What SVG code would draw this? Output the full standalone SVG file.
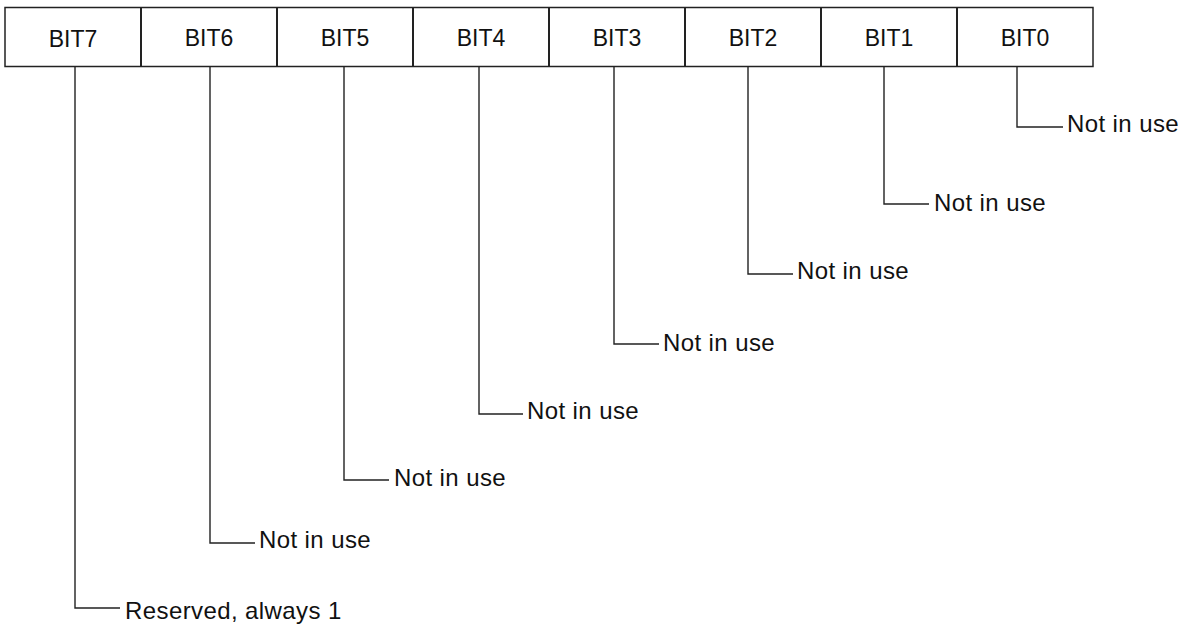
<svg xmlns="http://www.w3.org/2000/svg" width="1191" height="628" viewBox="0 0 1191 628">
<style>
.cell{fill:#fff;stroke:#222;stroke-width:1.5}
.div{stroke:#222;stroke-width:2}
.bit{font-family:"Liberation Sans",Arial,sans-serif;font-size:23px;fill:#111;text-anchor:middle}
.lbl{font-family:"Liberation Sans",Arial,sans-serif;font-size:24px;letter-spacing:0.4px;fill:#111}
.con{fill:none;stroke:#222;stroke-width:1.4}
</style>
<rect width="1191" height="628" fill="#fff"/>
<g id="register">
<rect class="cell" x="5" y="7.5" width="1088" height="59"/>
<line class="div" x1="141" y1="7.5" x2="141" y2="66.5"/>
<line class="div" x1="277" y1="7.5" x2="277" y2="66.5"/>
<line class="div" x1="413" y1="7.5" x2="413" y2="66.5"/>
<line class="div" x1="549" y1="7.5" x2="549" y2="66.5"/>
<line class="div" x1="685" y1="7.5" x2="685" y2="66.5"/>
<line class="div" x1="821" y1="7.5" x2="821" y2="66.5"/>
<line class="div" x1="957" y1="7.5" x2="957" y2="66.5"/>
</g>
<g id="bit7"><text class="bit" x="73" y="47">BIT7</text></g>
<g id="bit6"><text class="bit" x="209" y="45.5">BIT6</text></g>
<g id="bit5"><text class="bit" x="345" y="45.5">BIT5</text></g>
<g id="bit4"><text class="bit" x="481" y="45.5">BIT4</text></g>
<g id="bit3"><text class="bit" x="617" y="45.5">BIT3</text></g>
<g id="bit2"><text class="bit" x="753" y="45.5">BIT2</text></g>
<g id="bit1"><text class="bit" x="889" y="45.5">BIT1</text></g>
<g id="bit0"><text class="bit" x="1025" y="45.5">BIT0</text></g>
<g id="connectors">
<polyline class="con" points="1017,66.5 1017,127 1063,127"/>
<polyline class="con" points="884,66.5 884,204 929,204"/>
<polyline class="con" points="748,66.5 748,274 793,274"/>
<polyline class="con" points="614,66.5 614,344 659,344"/>
<polyline class="con" points="479,66.5 479,414 523,414"/>
<polyline class="con" points="344,66.5 344,480 389,480"/>
<polyline class="con" points="210,66.5 210,543 255,543"/>
<polyline class="con" points="75,66.5 75,608 120,608"/>
</g>
<g id="label0"><text class="lbl" x="1067" y="132">Not in use</text></g>
<g id="label1"><text class="lbl" x="934" y="211">Not in use</text></g>
<g id="label2"><text class="lbl" x="797" y="279">Not in use</text></g>
<g id="label3"><text class="lbl" x="663" y="351">Not in use</text></g>
<g id="label4"><text class="lbl" x="527" y="419">Not in use</text></g>
<g id="label5"><text class="lbl" x="394" y="486">Not in use</text></g>
<g id="label6"><text class="lbl" x="259" y="548">Not in use</text></g>
<g id="label7"><text class="lbl" x="125" y="619">Reserved, always 1</text></g>
</svg>
